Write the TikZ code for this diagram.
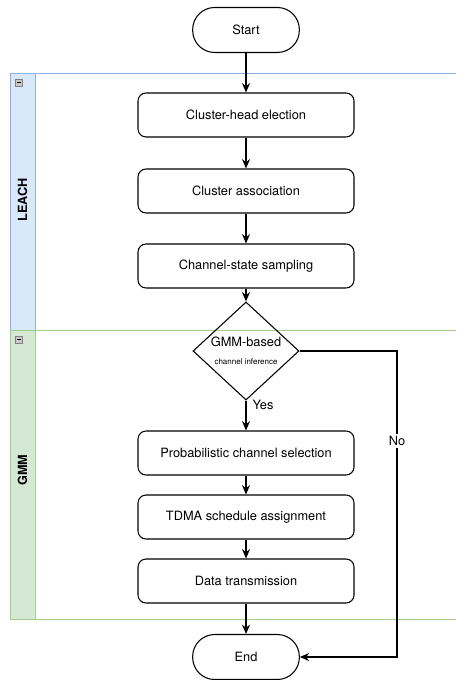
\documentclass[tikz,border=0pt]{standalone}
\usepackage{fontspec}
\setmainfont{TeX Gyre Heros}
\usetikzlibrary{shapes.geometric,arrows.meta}
\definecolor{leachfill}{RGB}{218,232,252}
\definecolor{leachline}{RGB}{140,176,232}
\definecolor{gmmfill}{RGB}{213,232,212}
\definecolor{gmmline}{RGB}{160,208,140}
\definecolor{iconfill}{RGB}{200,200,200}
\begin{document}
\begin{tikzpicture}[x=0.75pt,y=0.75pt,yscale=-1,xscale=1,
  stepbox/.style={draw, rounded corners=6pt, line width=0.8pt, minimum width=162pt, minimum height=33pt, font=\fontsize{9.6}{11}\selectfont},
  termbox/.style={draw, rounded corners=16.5pt, line width=0.8pt, minimum width=80pt, minimum height=33.75pt, font=\fontsize{9.6}{11}\selectfont},
  decbox/.style={draw, diamond, line width=0.8pt, minimum width=79.5pt, minimum height=64pt, inner sep=0pt, align=center},
  lanetext/.style={rotate=90, font=\fontsize{9.5}{11}\selectfont\bfseries},
  flow/.style={-{Stealth[length=7pt,width=6pt]}, line width=0.8pt}
]
\useasboundingbox (0,0) rectangle (456,680);

%Shape: Lane LEACH
\fill [leachfill] (10,73) rectangle (35,330);
\draw [leachline, line width=0.6pt] (456,73) -- (10,73) -- (10,330) -- (456,330) ;
\draw [leachline, line width=0.6pt] (35,73) -- (35,330) ;
\draw [gray, fill=iconfill, line width=0.4pt] (15,79) rectangle (22,86) ;
\draw [line width=0.6pt] (16.5,82.5) -- (20.5,82.5) ;

%Shape: Lane GMM
\fill [gmmfill] (10,330) rectangle (35,619);
\draw [gmmline, line width=0.6pt] (456,330) -- (10,330) -- (10,619) -- (456,619) ;
\draw [gmmline, line width=0.6pt] (35,330) -- (35,619) ;
\draw [gray, fill=iconfill, line width=0.4pt] (15,336) rectangle (22,343) ;
\draw [line width=0.6pt] (16.5,339.5) -- (20.5,339.5) ;

% Text Node
\node [lanetext] (leach) at (22.5,200) {LEACH};
% Text Node
\node [lanetext] (gmm) at (22.5,470) {GMM};

%Shape: Terminals and steps
\node [termbox] (start) at (246,30) {Start};
\node [stepbox] (chelect) at (246,115) {Cluster-head election};
\node [stepbox] (cassoc) at (246,191) {Cluster association};
\node [stepbox] (csample) at (246,266) {Channel-state sampling};
\node [decbox] (gmminf) at (246,351) {\fontsize{9.6}{11}\selectfont GMM-based\\[1.5pt]\fontsize{6}{8}\selectfont channel inference};
\node [stepbox] (chsel) at (246,453) {Probabilistic channel selection};
\node [stepbox] (tdma) at (246,517) {TDMA schedule assignment};
\node [stepbox] (datatx) at (246,581) {Data transmission};
\node [termbox] (finish) at (246,657) {End};
\coordinate (nocol) at (397,351) ;

%Straight Lines
\draw [flow] (start) -- (chelect) ;
\draw [flow] (chelect) -- (cassoc) ;
\draw [flow] (cassoc) -- (csample) ;
\draw [flow] (csample) -- (gmminf) ;
\draw [flow] (gmminf) -- (chsel) ;
\draw [flow] (chsel) -- (tdma) ;
\draw [flow] (tdma) -- (datatx) ;
\draw [flow] (datatx) -- (finish) ;
\draw [flow] (gmminf.east) -- (nocol) |- (finish.east) ;

% Text Node
\node [font=\fontsize{9.6}{11}\selectfont] (yes) at (263,405) {Yes};
% Text Node
\node [fill=white, inner sep=1.5pt, font=\fontsize{9.6}{11}\selectfont] (no) at (397,441) {No};

\end{tikzpicture}
\end{document}
